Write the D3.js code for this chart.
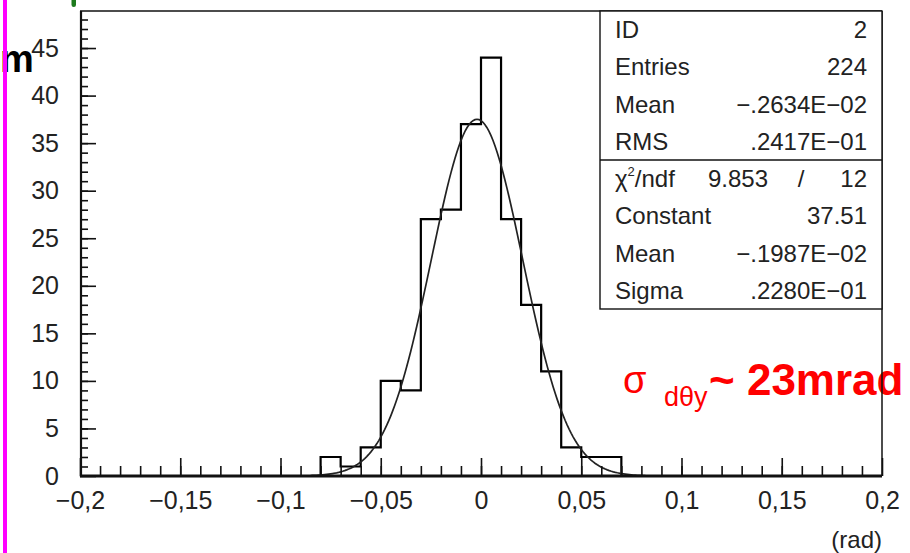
<!DOCTYPE html>
<html lang="en">
<head>
<meta charset="UTF-8">
<title>dthetay</title>
<script src="https://cdn.jsdelivr.net/npm/d3@7"></script>
<style>
    body{margin:0;background:#fff}
    svg text{font-family:"Liberation Sans",Arial,sans-serif}
</style>
</head>
<body>
<svg width="910" height="553"></svg>
<script>
// histogram: 0.01 rad bins, lower edges + counts
var binLow=[-0.08,-0.07,-0.06,-0.05,-0.04,-0.03,-0.02,-0.01,0,0.01,0.02,0.03,0.04,0.05,0.06];
var counts=[2,1,3,10,9,27,28,37,44,27,18,11,3,2,2];
var binWidth=0.01;

var xTicks=[-0.2,-0.15,-0.1,-0.05,0,0.05,0.1,0.15,0.2];
var xTickLabels=["\u22120,2","\u22120,15","\u22120,1","\u22120,05","0","0,05","0,1","0,15","0,2"];
var yTicks=[0,5,10,15,20,25,30,35,40,45];
var yTickLabels=["0","5","10","15","20","25","30","35","40","45"];

var statNames=["ID","Entries","Mean","RMS"];
var statValues=["2","224","\u2212.2634E\u221202",".2417E\u221201"];
var fitNames=["Constant","Mean","Sigma"];
var fitValues=["37.51","\u2212.1987E\u221202",".2280E\u221201"];
var chi2=["9.853","12"];
// gaussian fit: constant, mean, sigma (from the stats box)
var fitParams=[37.51,-0.001987,0.0228];
var fitRange=[-0.085,0.082];

var svg=d3.select('svg');
var x=d3.scaleLinear().domain([-0.2,0.2]).range([80,882]);
var y=d3.scaleLinear().domain([0,49]).range([476,10]);

// overlay text from the slide
svg.append('text')
    .attr('x',0).attr('y',72)
    .attr('font-size',38).attr('font-weight','bold')
    .attr('fill','#000')
    .text('m');
svg.append('rect')
    .attr('x',3).attr('y',0).attr('width',4).attr('height',553)
    .attr('fill','#ff00ff');
svg.append('rect')
    .attr('x',71.5).attr('y',-6).attr('width',4.5).attr('height',13).attr('rx',2.2)
    .attr('fill','#1d7a1d');

var red=svg.append('g').attr('fill','#ff0000');
red.append('text').attr('x',623).attr('y',393).attr('font-size',38).text('\u03c3');
red.append('text').attr('x',664).attr('y',406).attr('font-size',27).text('d\u03b8y');
red.append('text').attr('x',709).attr('y',395).attr('font-size',44).attr('font-weight','bold').text('~ 23mrad');

// histogram outline
var pts=[[binLow[0],0]];
binLow.forEach(function(b,i){
    pts.push([b,counts[i]]);
    pts.push([b+binWidth,counts[i]]);
});
pts.push([binLow[binLow.length-1]+binWidth,0]);
var line=d3.line()
    .x(d=>x(d[0]))
    .y(d=>y(d[1]));
svg.append('path')
    .datum(pts)
    .attr('fill','none')
    .attr('stroke','#000')
    .attr('stroke-width',2.2)
    .attr('d',line);

// fit curve
var gx=d3.range(fitRange[0],fitRange[1]+1e-9,0.001);
var gauss=gx.map(function(v){
    var t=(v-fitParams[1])/fitParams[2];
    return [v,fitParams[0]*Math.exp(-0.5*t*t)];
});
svg.append('path')
    .datum(gauss)
    .attr('fill','none')
    .attr('stroke','#222')
    .attr('stroke-width',1.7)
    .attr('d',line);

// axes (ticks point inside)
var xMinor=d3.range(-19,20).map(d=>d/100);
var yMinor=d3.range(1,49);
svg.append('g').attr('transform','translate(0,476)')
    .call(d3.axisBottom(x).tickValues(xMinor).tickSize(-10).tickFormat(''));
svg.append('g').attr('class','xax').attr('transform','translate(0,476)')
    .call(d3.axisBottom(x).tickValues(xTicks).tickSize(-18).tickPadding(15)
        .tickFormat((d,i)=>xTickLabels[i]));
svg.append('g').attr('transform','translate(80,0)')
    .call(d3.axisLeft(y).tickValues(yMinor).tickSize(-8).tickFormat(''));
svg.append('g').attr('class','yax').attr('transform','translate(80,0)')
    .call(d3.axisLeft(y).tickValues(yTicks).tickSize(-16).tickPadding(21)
        .tickFormat((d,i)=>yTickLabels[i]));
svg.selectAll('.domain').remove();
svg.selectAll('.tick line').attr('stroke','#111').attr('stroke-width',1.6);
svg.selectAll('.xax text,.yax text')
    .attr('font-family','"Liberation Sans",Arial,sans-serif')
    .attr('font-size',25).attr('fill','#222');

svg.append('text')
    .attr('x',882).attr('y',548)
    .attr('text-anchor','end')
    .attr('font-size',24).attr('fill','#222')
    .text('(rad)');

// frame
var fr=svg.append('g').attr('stroke','#111').attr('fill','none');
fr.append('line').attr('x1',80).attr('x2',882).attr('y1',11).attr('y2',11).attr('stroke-width',1.3);
fr.append('line').attr('x1',882).attr('x2',882).attr('y1',11).attr('y2',476).attr('stroke-width',1.5);
fr.append('line').attr('x1',81).attr('x2',81).attr('y1',11).attr('y2',477).attr('stroke-width',2.2);
fr.append('line').attr('x1',80).attr('x2',882).attr('y1',476).attr('y2',476).attr('stroke-width',3.2);

// stats box
var bx0=600,bx1=882,by0=11,bySep=160,by1=309;
svg.append('rect')
    .attr('x',bx0).attr('y',by0).attr('width',bx1-bx0).attr('height',by1-by0)
    .attr('fill','#fff').attr('stroke','#111').attr('stroke-width',1.4);
svg.append('line')
    .attr('x1',bx0).attr('x2',bx1).attr('y1',bySep).attr('y2',bySep)
    .attr('stroke','#111').attr('stroke-width',1.4);
var rowH=(bySep-by0)/4;
var st=svg.append('g').attr('font-size',24).attr('fill','#222');
statNames.forEach(function(n,i){
    var yy=by0+(i+0.5)*rowH+8.5;
    st.append('text').attr('x',615).attr('y',yy).text(n);
    st.append('text').attr('x',867).attr('y',yy).attr('text-anchor','end').text(statValues[i]);
});
var rowH2=(by1-bySep)/4;
var cy=bySep+0.5*rowH2+8.5;
var chiT=st.append('text').attr('x',615).attr('y',cy);
chiT.append('tspan').text('\u03c7');
chiT.append('tspan').attr('font-size',13).attr('dy',-11).text('2');
chiT.append('tspan').attr('dy',11).text('/ndf');
st.append('text').attr('x',708).attr('y',cy).text(chi2[0]);
st.append('text').attr('x',801).attr('y',cy).attr('text-anchor','middle').text('/');
st.append('text').attr('x',867).attr('y',cy).attr('text-anchor','end').text(chi2[1]);
fitNames.forEach(function(n,i){
    var yy=bySep+(i+1.5)*rowH2+8.5;
    st.append('text').attr('x',615).attr('y',yy).text(n);
    st.append('text').attr('x',867).attr('y',yy).attr('text-anchor','end').text(fitValues[i]);
});
</script>
</body>
</html>
